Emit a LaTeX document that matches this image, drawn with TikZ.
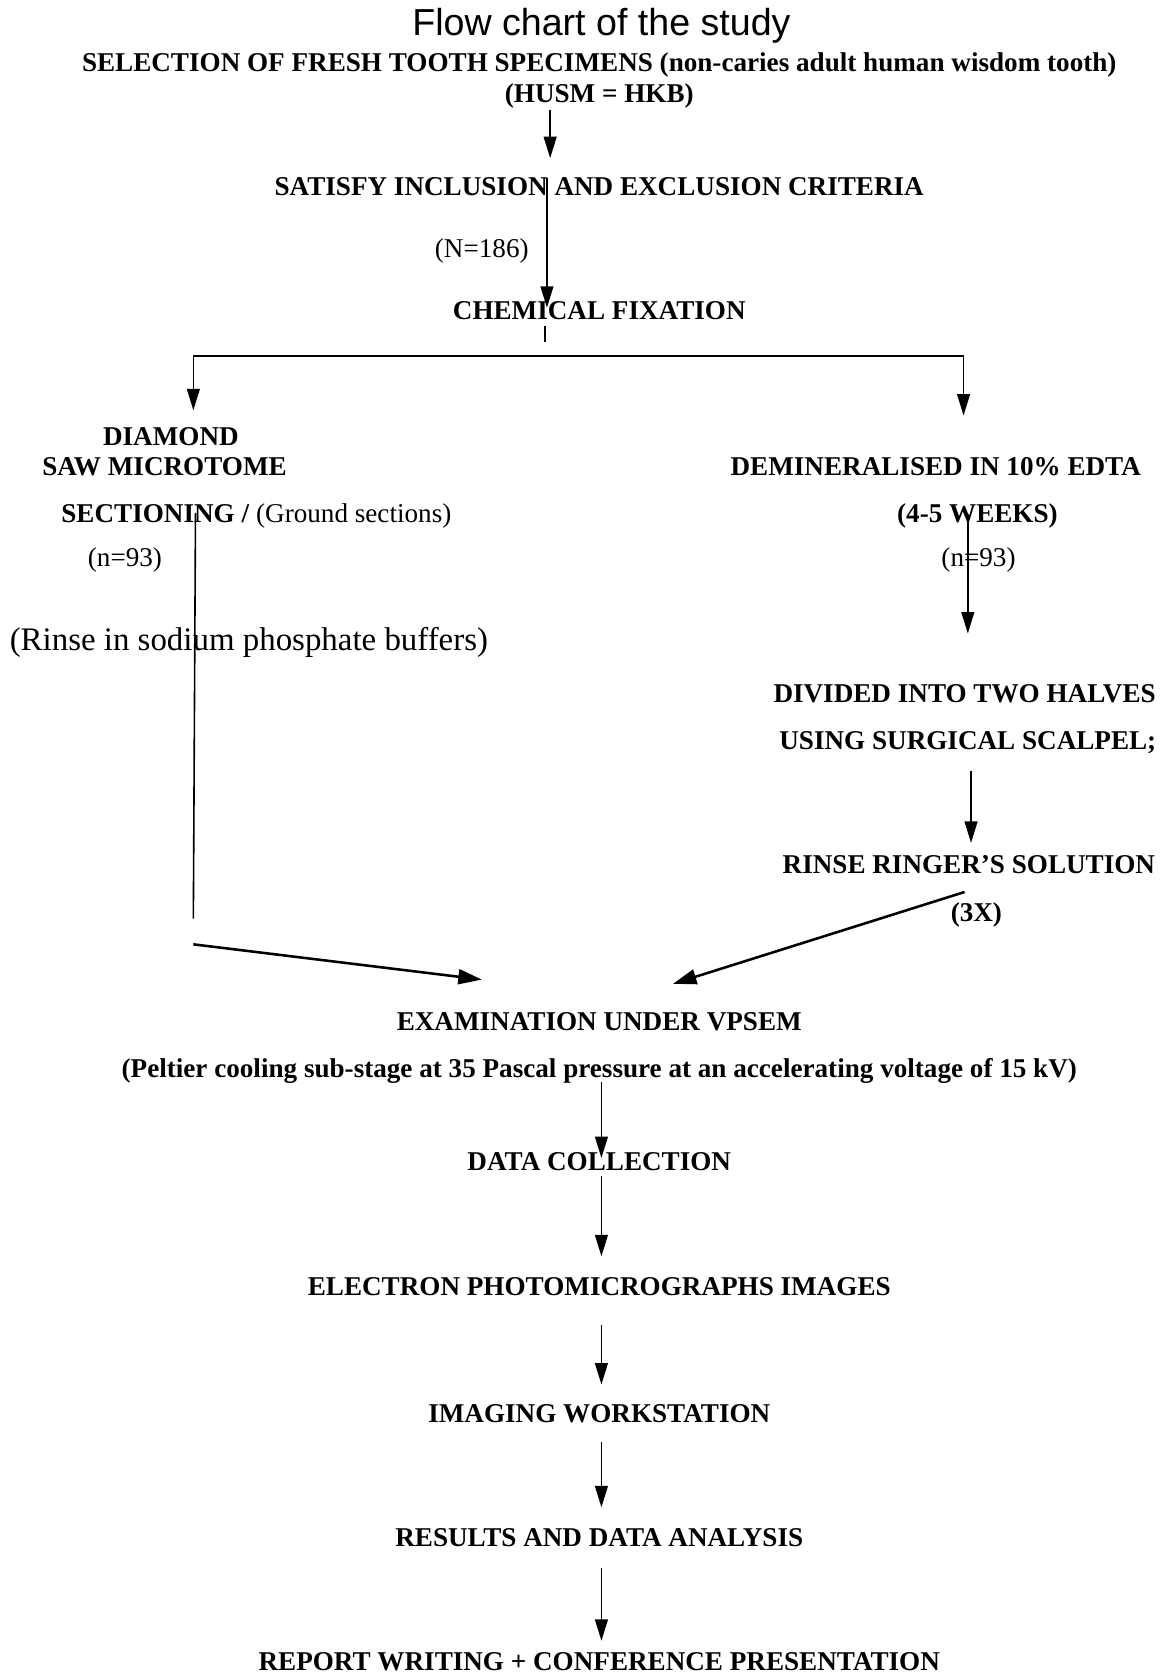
\documentclass[tikz,border=0pt]{standalone}
\usepackage{fontspec}
\setmainfont{Liberation Serif}
\newfontfamily\titlefont{Liberation Sans}
\usetikzlibrary{arrows.meta}
\begin{document}
\begin{tikzpicture}[x=0.5pt,y=-0.5pt,
  lbl/.style={inner sep=0pt,anchor=base,font=\bfseries\fontsize{12.7}{14}\selectfont},
  lblr/.style={inner sep=0pt,anchor=base,font=\fontsize{12.7}{14}\selectfont},
  conn/.style={line width=0.75pt},
  arr/.style={line width=0.75pt,-{Triangle[length=10pt,width=6pt]}},
  sarr/.style={line width=1.2pt,-{Triangle[length=11pt,width=7pt]}}]
\useasboundingbox (0,0) rectangle (1091,1568);
% texts
\node[inner sep=0pt,anchor=base,font=\titlefont\fontsize{17.6}{20}\selectfont] (title) at (563,33) {Flow chart of the study};
\node[lbl] (sel) at (561,67) {SELECTION OF FRESH TOOTH SPECIMENS (non-caries adult human wisdom tooth)};
\node[lbl] (husm) at (561,96) {(HUSM = HKB)};
\node[lbl] (sat) at (561,183) {SATISFY INCLUSION AND EXCLUSION CRITERIA};
\node[lblr] (n186) at (451,241) {(N=186)};
\node[lbl] (chem) at (561,299) {CHEMICAL FIXATION};
\node[lbl] (diam) at (160,417) {DIAMOND};
\node[lbl] (saw) at (154,445) {SAW MICROTOME};
\node[lblr] (sect) at (240,489) {\textbf{SECTIONING /} (Ground sections)};
\node[lblr] (n93l) at (117,530) {(n=93)};
\node[inner sep=0pt,anchor=base,font=\fontsize{15.4}{17}\selectfont] (rinsel) at (233,609) {(Rinse in sodium phosphate buffers)};
\node[lbl] (demin) at (876,445) {DEMINERALISED IN 10\% EDTA};
\node[lbl] (weeks) at (915,489) {(4-5 WEEKS)};
\node[lblr] (n93r) at (916,530) {(n=93)};
\node[lbl] (div) at (903,658) {DIVIDED INTO TWO HALVES};
\node[lbl] (using) at (906,702) {USING SURGICAL SCALPEL;};
\node[lbl] (ringer) at (907,818) {RINSE RINGER'S SOLUTION};
\node[lbl] (three) at (914,863) {(3X)};
\node[lbl] (exam) at (561,965) {EXAMINATION UNDER VPSEM};
\node[lbl] (pelt) at (561,1009) {(Peltier cooling sub-stage at 35 Pascal pressure at an accelerating voltage of 15 kV)};
\node[lbl] (data) at (561,1096) {DATA COLLECTION};
\node[lbl] (elec) at (561,1213) {ELECTRON PHOTOMICROGRAPHS IMAGES};
\node[lbl] (img) at (561,1332) {IMAGING WORKSTATION};
\node[lbl] (res) at (561,1448) {RESULTS AND DATA ANALYSIS};
\node[lbl] (rep) at (561,1564) {REPORT WRITING + CONFERENCE PRESENTATION};
% coordinates
\coordinate (a1s) at (515,103); \coordinate (a1e) at (515,148);
\coordinate (a2s) at (512,167); \coordinate (a2e) at (512,288);
\coordinate (c1s) at (510,305); \coordinate (c1e) at (510,320);
\coordinate (hl) at (181,333); \coordinate (hr) at (902,333);
\coordinate (lde) at (181,384); \coordinate (rde) at (902,389);
\coordinate (ls) at (183,480); \coordinate (le) at (181,860);
\coordinate (las) at (181,884); \coordinate (lae) at (451,917);
\coordinate (r1s) at (906,481); \coordinate (r1e) at (906,593);
\coordinate (r2s) at (909,722); \coordinate (r2e) at (909,789);
\coordinate (ras) at (903,835); \coordinate (rae) at (630,921);
\coordinate (d1s) at (563,1013); \coordinate (d1e) at (563,1084);
\coordinate (d2s) at (563,1101); \coordinate (d2e) at (563,1176);
\coordinate (d3s) at (563,1240); \coordinate (d3e) at (563,1296);
\coordinate (d4s) at (563,1350); \coordinate (d4e) at (563,1411);
\coordinate (d5s) at (563,1468); \coordinate (d5e) at (563,1536);
% connectors
\draw[arr] (a1s) -- (a1e);
\draw[arr] (a2s) -- (a2e);
\draw[conn] (c1s) -- (c1e);
\draw[conn] (hl) -- (hr);
\draw[arr] (hl) -- (lde);
\draw[arr] (hr) -- (rde);
\draw[conn] (ls) -- (le);
\draw[sarr] (las) -- (lae);
\draw[arr] (r1s) -- (r1e);
\draw[arr] (r2s) -- (r2e);
\draw[sarr] (ras) -- (rae);
\draw[arr] (d1s) -- (d1e);
\draw[arr] (d2s) -- (d2e);
\draw[arr] (d3s) -- (d3e);
\draw[arr] (d4s) -- (d4e);
\draw[arr] (d5s) -- (d5e);
\end{tikzpicture}
\end{document}
